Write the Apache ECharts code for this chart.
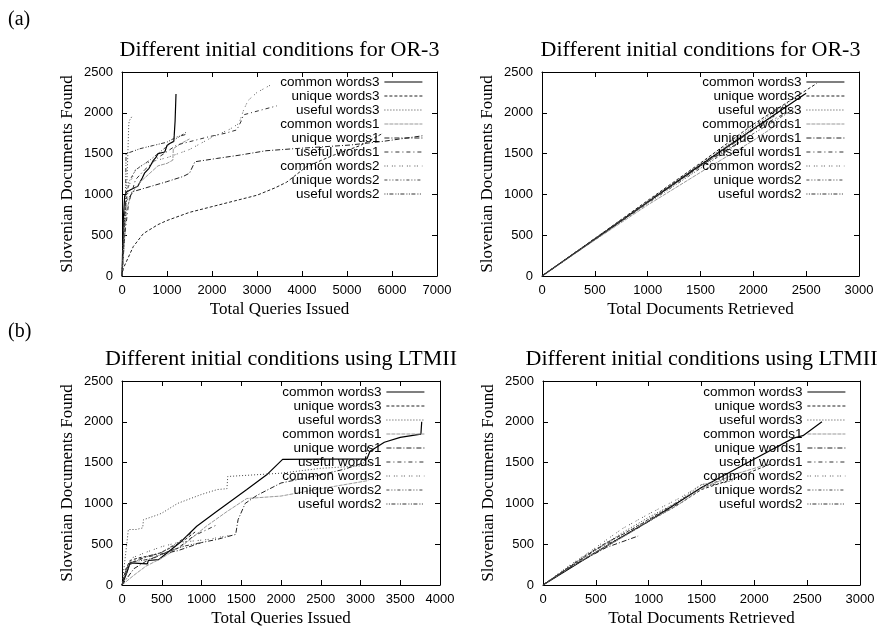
<!DOCTYPE html>
<html>
<head>
<meta charset="utf-8">
<title>Different initial conditions</title>
<script src="https://cdn.jsdelivr.net/npm/echarts@6/dist/echarts.min.js"></script>
<style>
  html, body { margin: 0; padding: 0; background: #fff; }
  #chart { width: 888px; height: 628px; }
</style>
</head>
<body>
<div id="chart"></div>
<script>
// same order in every panel
const seriesNames = [
  'common words3', 'unique words3', 'useful words3',
  'common words1', 'unique words1', 'useful words1',
  'common words2', 'unique words2', 'useful words2'
];

// (a) OR-3 : found vs queries issued
const orQueryCommon3 = [[0,0],[30,700],[60,980],[100,1030],[200,1060],[350,1100],[450,1200],[500,1260],[600,1320],[700,1420],[750,1450],[800,1500],[950,1520],[1000,1600],[1050,1620],[1150,1650],[1160,1720],[1180,1900],[1200,2230]];
const orQueryUnique3 = [[0,0],[30,95],[250,360],[475,520],[800,630],[1000,680],[1500,780],[2000,850],[2500,920],[3000,990],[3400,1080],[3660,1150],[4100,1340],[4700,1480],[5300,1600],[5800,1750]];
const orQueryUseful3 = [[0,0],[60,500],[100,1000],[130,1500],[150,1850],[160,1900],[215,1950]];
const orQueryCommon1 = [[0,0],[50,400],[100,800],[200,1000],[400,1150],[600,1250],[800,1350],[1000,1380],[1130,1420],[1140,1560],[1300,1620],[1500,1680]];
const orQueryUnique1 = [[0,0],[40,600],[80,900],[250,1035],[620,1095],[990,1155],[1360,1220],[1500,1260],[1620,1400],[2100,1440],[2600,1480],[3200,1535],[3950,1565],[5070,1605],[5800,1650],[6700,1720]];
const orQueryUseful1 = [[0,0],[60,500],[150,900],[300,1180],[500,1300],[800,1450],[1215,1605],[1600,1660],[1955,1710],[2300,1750],[2550,1790],[2650,1900],[2700,1975],[3000,2020],[3440,2085]];
const orQueryCommon2 = [[0,0],[50,700],[150,1100],[300,1300],[500,1380],[1000,1450],[1500,1550],[2000,1700],[2400,1800],[2600,1870],[2700,2030],[2800,2150],[3000,2250],[3300,2340]];
const orQueryUnique2 = [[0,0],[40,500],[90,900],[150,1150],[300,1300],[620,1420],[990,1585],[1200,1680],[1420,1760]];
const orQueryUseful2 = [[0,0],[40,500],[80,1000],[90,1500],[200,1520],[400,1560],[700,1600],[1000,1640],[1200,1700],[1450,1740]];

// (a) OR-3 : found vs documents retrieved
const orDocsCommon3 = [[0,0],[500,450],[1000,905],[1500,1360],[2000,1800],[2500,2240]];
const orDocsUnique3 = [[0,0],[500,460],[1000,925],[1500,1385],[2000,1860],[2600,2360]];
const orDocsUseful3 = [[0,0],[500,455],[1000,910],[1500,1370],[2000,1830],[2400,2190]];
const orDocsCommon1 = [[0,0],[500,440],[1000,870],[1500,1270],[2000,1660],[2230,1860]];
const orDocsUnique1 = [[0,0],[500,455],[1000,905],[1500,1350],[1870,1640]];
const orDocsUseful1 = [[0,0],[500,450],[1000,900],[1500,1345],[2000,1790],[2400,2060]];
const orDocsCommon2 = [[0,0],[500,450],[1000,900],[1500,1335],[1900,1700]];
const orDocsUnique2 = [[0,0],[500,445],[1000,890],[1500,1320],[2000,1745],[2380,2040]];
const orDocsUseful2 = [[0,0],[500,460],[1000,915],[1500,1370],[2000,1800],[2200,1960]];

// (b) LTMII : found vs queries issued
const ltQueryCommon3 = [[0,0],[60,150],[100,270],[110,260],[320,260],[330,300],[460,310],[600,420],[730,520],[940,720],[1190,900],[1570,1170],[1820,1350],[2020,1540],[3080,1545],[3120,1640],[3300,1750],[3500,1810],[3760,1850],[3770,2000]];
const ltQueryUnique3 = [[0,0],[50,200],[100,300],[200,330],[300,350],[450,380],[600,450],[800,560],[920,650]];
const ltQueryUseful3 = [[0,0],[60,500],[80,680],[180,680],[260,700],[270,800],[450,860],[500,880],[700,1000],[1000,1110],[1200,1170],[1320,1180],[1330,1330],[1500,1340],[2000,1370],[2500,1430],[3000,1460],[3150,1490]];
const ltQueryCommon1 = [[0,0],[150,120],[300,230],[500,330],[770,490],[1060,720],[1320,900],[1570,1060],[2000,1090],[2500,1180],[3100,1280]];
const ltQueryUnique1 = [[0,0],[150,200],[300,290],[500,380],[700,420],[1000,520],[1200,560],[1430,620],[1460,800],[1550,1000],[1700,1100],[2000,1250],[2500,1350],[2800,1420],[3050,1500],[3100,1720]];
const ltQueryUseful1 = [[0,0],[80,250],[150,300],[300,340],[500,380],[700,450],[900,600],[1200,740]];
const ltQueryCommon2 = [[0,0],[60,200],[120,330],[300,400],[500,470],[700,520],[900,540],[1100,560],[1300,600],[1400,610]];
const ltQueryUnique2 = [[0,0],[100,250],[200,300],[350,360],[500,400],[700,520],[880,640]];
const ltQueryUseful2 = [[0,0],[50,180],[100,280],[250,300],[400,330],[600,420],[800,480],[1000,520]];

// (b) LTMII : found vs documents retrieved
const ltDocsCommon3 = [[0,0],[500,400],[1000,780],[1500,1195],[2000,1545],[2370,1800],[2460,1830],[2640,2000]];
const ltDocsUnique3 = [[0,0],[250,215],[500,400],[750,590],[1000,780],[1250,960],[1500,1170],[1800,1300],[2150,1480]];
const ltDocsUseful3 = [[0,0],[250,230],[500,430],[750,640],[1000,830],[1250,1000],[1500,1230],[1800,1300]];
const ltDocsCommon1 = [[0,0],[250,210],[500,400],[800,620],[1000,780],[1300,1000],[1500,1180],[1800,1350],[2100,1470]];
const ltDocsUnique1 = [[0,0],[300,250],[600,460],[900,600]];
const ltDocsUseful1 = [[0,0],[300,260],[500,440],[700,560],[900,700],[1100,860],[1300,1010]];
const ltDocsCommon2 = [[0,0],[250,240],[500,460],[750,690],[1000,870],[1300,1070],[1500,1230],[1650,1270]];
const ltDocsUnique2 = [[0,0],[300,260],[600,510],[900,730],[1200,960],[1500,1200],[1800,1280]];
const ltDocsUseful2 = [[0,0],[200,180],[400,360],[600,520],[800,650],[1000,800],[1200,950]];

// axis ranges
const foundMax = 2500, foundStep = 500;
const orQueryMax = 7000, orQueryStep = 1000;
const ltQueryMax = 4000, ltQueryStep = 500;
const docsMax = 3000, docsStep = 500;

// gnuplot-ish line types
const lineStyles = [
  { color: '#000', width: 1.2, type: 'solid' },
  { color: '#222', width: 1, type: [3, 2] },
  { color: '#444', width: 1, type: [1, 2] },
  { color: '#999', width: 1, type: [4, 1] },
  { color: '#222', width: 1, type: [5, 2, 1, 2] },
  { color: '#333', width: 1, type: [4, 3, 1, 3] },
  { color: '#555', width: 1, type: [1, 1.5, 1, 4] },
  { color: '#444', width: 1, type: [3, 2, 1, 2, 1, 2] },
  { color: '#333', width: 1, type: [1, 1.5, 1, 1.5, 4, 2] }
];

const serif = 'Liberation Serif';
const sans = 'Liberation Sans';

const panels = [
  {
    title: 'Different initial conditions for OR-3', xName: 'Total Queries Issued',
    xMax: orQueryMax, xStep: orQueryStep,
    grid: { left: 122, top: 72, width: 315, height: 204 }, legendRight: 465, legendTop: 75,
    lines: [orQueryCommon3, orQueryUnique3, orQueryUseful3, orQueryCommon1, orQueryUnique1, orQueryUseful1, orQueryCommon2, orQueryUnique2, orQueryUseful2]
  },
  {
    title: 'Different initial conditions for OR-3', xName: 'Total Documents Retrieved',
    xMax: docsMax, xStep: docsStep,
    grid: { left: 542, top: 72, width: 317, height: 204 }, legendRight: 43, legendTop: 75,
    lines: [orDocsCommon3, orDocsUnique3, orDocsUseful3, orDocsCommon1, orDocsUnique1, orDocsUseful1, orDocsCommon2, orDocsUnique2, orDocsUseful2]
  },
  {
    title: 'Different initial conditions using LTMII', xName: 'Total Queries Issued',
    xMax: ltQueryMax, xStep: ltQueryStep,
    grid: { left: 122, top: 381, width: 318, height: 205 }, legendRight: 463, legendTop: 385,
    lines: [ltQueryCommon3, ltQueryUnique3, ltQueryUseful3, ltQueryCommon1, ltQueryUnique1, ltQueryUseful1, ltQueryCommon2, ltQueryUnique2, ltQueryUseful2]
  },
  {
    title: 'Different initial conditions using LTMII', xName: 'Total Documents Retrieved',
    xMax: docsMax, xStep: docsStep,
    grid: { left: 543, top: 381, width: 317, height: 205 }, legendRight: 42, legendTop: 385,
    lines: [ltDocsCommon3, ltDocsUnique3, ltDocsUseful3, ltDocsCommon1, ltDocsUnique1, ltDocsUseful1, ltDocsCommon2, ltDocsUnique2, ltDocsUseful2]
  }
];

const option = {
  animation: false,
  backgroundColor: '#fff',
  title: [
    { text: '(a)', left: 8, top: 10, padding: 0, textStyle: { fontFamily: serif, fontSize: 20, fontWeight: 'normal', color: '#000' } },
    { text: '(b)', left: 8, top: 322, padding: 0, textStyle: { fontFamily: serif, fontSize: 20, fontWeight: 'normal', color: '#000' } }
  ],
  grid: [], xAxis: [], yAxis: [], legend: [], series: []
};

const axisLineStyle = { show: true, onZero: false, lineStyle: { color: '#000', width: 1 } };
const tickStyle = { show: true, inside: true, length: 5, lineStyle: { color: '#000', width: 1 } };
// plain numbers, no thousands separator
const tickLabel = { color: '#000', fontFamily: sans, fontSize: 13, formatter: function (v) { return String(v); } };

panels.forEach(function (p, i) {
  option.grid.push(Object.assign({ show: false }, p.grid));

  option.title.push({
    text: p.title,
    left: p.grid.left + p.grid.width / 2,
    top: p.grid.top - 33,
    textAlign: 'center',
    padding: 0,
    textStyle: { fontFamily: serif, fontSize: 22, fontWeight: 'normal', color: '#000' }
  });

  // bottom + mirrored top
  option.xAxis.push({
    type: 'value', gridIndex: i, position: 'bottom', min: 0, max: p.xMax, interval: p.xStep,
    axisLine: axisLineStyle, axisTick: tickStyle, splitLine: { show: false },
    axisLabel: Object.assign({ margin: 8 }, tickLabel),
    name: p.xName, nameLocation: 'middle', nameGap: 25,
    nameTextStyle: { fontFamily: serif, fontSize: 17, color: '#000' }
  });
  option.xAxis.push({
    type: 'value', gridIndex: i, position: 'top', min: 0, max: p.xMax, interval: p.xStep,
    axisLine: axisLineStyle, axisTick: tickStyle, splitLine: { show: false }, axisLabel: { show: false }
  });

  // left + mirrored right
  option.yAxis.push({
    type: 'value', gridIndex: i, position: 'left', min: 0, max: foundMax, interval: foundStep,
    axisLine: axisLineStyle, axisTick: tickStyle, splitLine: { show: false },
    axisLabel: Object.assign({ margin: 9 }, tickLabel),
    name: 'Slovenian Documents Found', nameLocation: 'middle', nameGap: 46,
    nameTextStyle: { fontFamily: serif, fontSize: 17, color: '#000' }
  });
  option.yAxis.push({
    type: 'value', gridIndex: i, position: 'right', min: 0, max: foundMax, interval: foundStep,
    axisLine: axisLineStyle, axisTick: tickStyle, splitLine: { show: false }, axisLabel: { show: false }
  });

  option.legend.push({
    orient: 'vertical', align: 'right', right: p.legendRight, top: p.legendTop,
    padding: 0, itemGap: 0, itemWidth: 38, itemHeight: 10, selectedMode: false,
    textStyle: { color: '#000', fontFamily: sans, fontSize: 13.5, lineHeight: 13.5 },
    data: seriesNames.map(function (name, k) {
      return { name: name, lineStyle: lineStyles[k], itemStyle: { opacity: 0 } };
    })
  });

  p.lines.forEach(function (points, k) {
    option.series.push({
      name: seriesNames[k], type: 'line', xAxisIndex: 2 * i, yAxisIndex: 2 * i,
      data: points, symbol: 'none', silent: true,
      lineStyle: lineStyles[k], itemStyle: { color: lineStyles[k].color }
    });
  });
});

const chart = echarts.init(document.getElementById('chart'));
chart.setOption(option);
</script>
</body>
</html>
